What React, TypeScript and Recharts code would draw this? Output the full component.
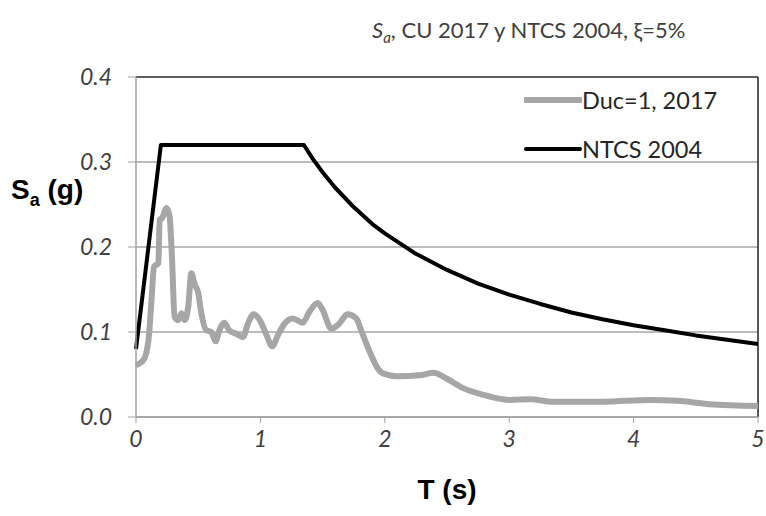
import React from 'react';
import { LineChart, Line, XAxis, YAxis, CartesianGrid, ReferenceLine } from 'recharts';

// periods (s) and spectral accel (g)
const periodsDuc = [0, 0.06, 0.1, 0.125, 0.145, 0.18, 0.19, 0.21, 0.245, 0.27, 0.29, 0.31, 0.34, 0.365, 0.39, 0.42, 0.445, 0.47, 0.5, 0.525, 0.565, 0.605, 0.64, 0.67, 0.71, 0.75, 0.805, 0.86, 0.9, 0.945, 0.995, 1.045, 1.095, 1.14, 1.195, 1.26, 1.34, 1.395, 1.46, 1.5, 1.57, 1.635, 1.7, 1.77, 1.82, 1.875, 1.94, 1.99, 2.1, 2.28, 2.39, 2.5, 2.63, 2.77, 3.0, 3.17, 3.35, 3.76, 4.13, 4.35, 4.61, 5.0];
const saDuc = [0.061, 0.067, 0.09, 0.138, 0.177, 0.181, 0.232, 0.234, 0.246, 0.236, 0.185, 0.118, 0.114, 0.122, 0.114, 0.13, 0.169, 0.157, 0.146, 0.122, 0.102, 0.1, 0.089, 0.102, 0.111, 0.102, 0.098, 0.094, 0.11, 0.121, 0.114, 0.098, 0.083, 0.096, 0.11, 0.116, 0.111, 0.124, 0.134, 0.126, 0.104, 0.11, 0.121, 0.116, 0.098, 0.078, 0.058, 0.051, 0.048, 0.049, 0.052, 0.045, 0.034, 0.027, 0.02, 0.021, 0.018, 0.018, 0.02, 0.019, 0.015, 0.013];

const periodsNtcs = [0, 0.2, 1.35, 1.42, 1.5, 1.6, 1.75, 1.9, 2, 2.25, 2.5, 2.75, 3, 3.25, 3.5, 3.75, 4, 4.25, 4.5, 4.75, 5];
const saNtcs = [0.08, 0.32, 0.32, 0.304, 0.288, 0.27, 0.247, 0.227, 0.216, 0.192, 0.173, 0.157, 0.144, 0.133, 0.123, 0.115, 0.108, 0.102, 0.096, 0.091, 0.086];

const xTicks = [0, 1, 2, 3, 4, 5];
const yTicks = [0, 0.1, 0.2, 0.3, 0.4];

const ducData = periodsDuc.map((T, i) => ({ T, sa: saDuc[i] }));
const ntcsData = periodsNtcs.map((T, i) => ({ T, sa: saNtcs[i] }));

const tickFont = { fontFamily: 'Lato', fontSize: 23, fontStyle: 'italic', fill: '#404040' };

function LegendBox() {
  const items = [
    { label: 'Duc=1, 2017', color: '#a6a6a6', w: 6 },
    { label: 'NTCS 2004', color: '#000000', w: 4 },
  ];
  return (
    <div style={{ position: 'absolute', left: 524, top: 75, fontFamily: 'Lato', fontSize: 23.5, color: '#262626' }}>
      {items.map((it) => (
        <div key={it.label} style={{ display: 'flex', alignItems: 'center', height: 49 }}>
          <svg width={58} height={10}>
            <line x1={2} y1={5} x2={56} y2={5} stroke={it.color} strokeWidth={it.w} strokeLinecap="round" />
          </svg>
          <span>{it.label}</span>
        </div>
      ))}
    </div>
  );
}

export default function App() {
  return (
    <div style={{ position: 'relative', width: 766, height: 516, background: '#fff' }}>
      <style>{'body{margin:0}'}</style>
      <LineChart width={766} height={516} data={ducData} margin={{ top: 77, right: 8, bottom: 0, left: 0 }}>
        <CartesianGrid vertical={false} stroke="#a6a6a6" strokeWidth={1.5} />
        <XAxis
          type="number"
          dataKey="T"
          domain={[0, 5]}
          ticks={xTicks}
          height={99}
          tick={tickFont}
          tickSize={6}
          tickMargin={8}
          axisLine={{ stroke: '#a0a0a0', strokeWidth: 1.5 }}
          tickLine={{ stroke: '#a0a0a0' }}
        />
        <YAxis
          type="number"
          domain={[0, 0.4]}
          ticks={yTicks}
          width={136}
          tick={tickFont}
          tickFormatter={(v: number) => v.toFixed(1)}
          tickSize={8}
          tickMargin={16}
          axisLine={{ stroke: '#a0a0a0', strokeWidth: 1.5 }}
          tickLine={{ stroke: '#a0a0a0' }}
        />
        <ReferenceLine y={0.4} stroke="#404040" strokeWidth={1.5} />
        <ReferenceLine x={5} stroke="#202020" strokeWidth={1.5} />
        <Line data={ducData} dataKey="sa" type="monotone" stroke="#a6a6a6" strokeWidth={6} strokeLinejoin="round" dot={false} isAnimationActive={false} />
        <Line data={ntcsData} dataKey="sa" type="linear" stroke="#000000" strokeWidth={4} strokeLinejoin="round" dot={false} isAnimationActive={false} />
      </LineChart>
      <div style={{ position: 'absolute', left: 372, top: 16, fontFamily: 'Lato', fontSize: 22, color: '#404040', whiteSpace: 'nowrap' }}>
        <i>S<sub style={{ fontSize: 15 }}>a</sub></i>, CU 2017 y NTCS 2004, ξ=5%
      </div>
      <div style={{ position: 'absolute', left: 11, top: 174, fontFamily: 'Liberation Sans', fontWeight: 'bold', fontSize: 28, color: '#000' }}>
        S<sub style={{ fontSize: 18 }}>a</sub> (g)
      </div>
      <div style={{ position: 'absolute', left: 0, width: 766, paddingLeft: 136, paddingRight: 8, boxSizing: 'border-box', top: 474, textAlign: 'center', fontFamily: 'Liberation Sans', fontWeight: 'bold', fontSize: 28, color: '#000' }}>
        T (s)
      </div>
      <LegendBox />
    </div>
  );
}
